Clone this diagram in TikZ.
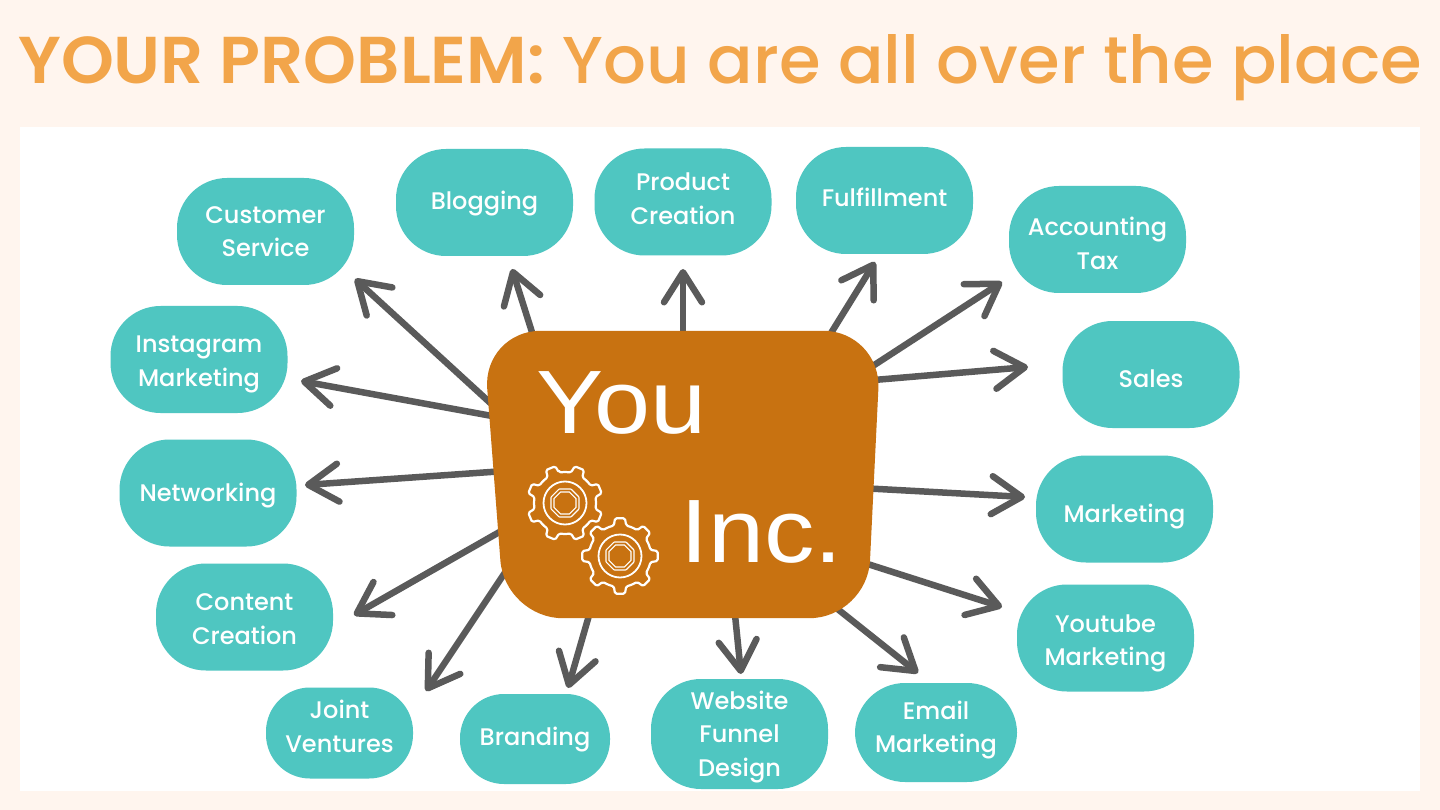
\documentclass[tikz,border=0pt]{standalone}
\usepackage{fontspec}
\usepackage{graphicx}
\setmainfont{Poppins}
\newfontfamily\popsb{Poppins SemiBold}
\newfontfamily\popmd{Poppins Medium}
\newfontfamily\arialf{Liberation Sans}
\usetikzlibrary{arrows.meta,calc}
\definecolor{bgpeach}{HTML}{FFF5EE}
\definecolor{titleor}{HTML}{F2A54A}
\definecolor{pillteal}{HTML}{4FC6C1}
\definecolor{boxorange}{HTML}{C87211}
\definecolor{arrgray}{HTML}{5A5A5A}
\newcommand{\pline}[1]{\smash{#1}}
\tikzset{
  pill/.style={fill=pillteal, rounded corners=50pt, inner sep=0pt,
    minimum width=177pt, minimum height=107pt},
  ptext/.style={text=white, font=\popmd\fontsize{24}{33.5}\selectfont,
    align=center, inner sep=0pt},
  arr/.style={draw=arrgray, line width=6.5pt, line cap=round, line join=round,
    -{Straight Barb[length=30pt,width=38pt,round]}},
  gearline/.style={draw=white, line width=2.2pt, line join=round, rounded corners=1.5pt},
  bigword/.style={anchor=base west, inner sep=0pt, text=white,
    font=\arialf\fontsize{90}{90}\selectfont},
}
\begin{document}
\begin{tikzpicture}[x=1pt,y=-1pt]
\useasboundingbox (0,0) rectangle (1440,810);
\fill[bgpeach] (0,0) rectangle (1440,810);
\fill[white] (20,127) rectangle (1420,791);

% title
\node[anchor=base west, inner sep=0pt, text=titleor] (title) at (18,84)
  {\resizebox{1404pt}{49pt}{\fontsize{60}{60}\selectfont{\popsb YOUR PROBLEM:} {\popmd You are all over the place}}};

% pills
\node[pill, label={[ptext,yshift=-8.5pt]center:\pline{Customer}\\\pline{Service}}] (cs) at (265.5,231.5) {};
\node[pill, label={[ptext,yshift=-7.5pt]center:\pline{Blogging}}] (blog) at (484.5,202.5) {};
\node[pill, label={[ptext,yshift=-5.5pt]center:\pline{Product}\\\pline{Creation}}] (prod) at (683,202) {};
\node[pill, label={[ptext,yshift=-6.5pt]center:\pline{Fulfillment}}] (ful) at (884.5,200.5) {};
\node[pill, label={[ptext,yshift=-13pt]center:\pline{Accounting}\\\pline{Tax}}] (acc) at (1097.5,239.5) {};
\node[pill, label={[ptext,yshift=-12.5pt]center:\pline{Sales}}] (sales) at (1151,374.5) {};
\node[pill, label={[ptext,yshift=-13.5pt]center:\pline{Marketing}}] (mkt) at (1124.5,509) {};
\node[pill, label={[ptext,yshift=-11pt]center:\pline{Youtube}\\\pline{Marketing}}] (yt) at (1105.5,638) {};
\node[pill, minimum width=162pt, minimum height=99pt,
  label={[ptext,yshift=-3.5pt]center:\pline{Email}\\\pline{Marketing}}] (email) at (936,732.5) {};
\node[pill, minimum height=110pt,
  label={[ptext,yshift=-8.5pt]center:\pline{Website}\\\pline{Funnel}\\\pline{Design}}] (web) at (739.5,734) {};
\node[pill, minimum width=150pt, minimum height=90pt, rounded corners=44pt,
  label={[ptext,yshift=-6.5pt]center:\pline{Branding}}] (brand) at (535,739) {};
\node[pill, minimum width=147pt, minimum height=91pt, rounded corners=44pt,
  label={[ptext,yshift=-2.5pt]center:\pline{Joint}\\\pline{Ventures}}] (jv) at (339.5,733) {};
\node[pill, label={[ptext,yshift=-10.5pt]center:\pline{Content}\\\pline{Creation}}] (cc) at (244.5,617) {};
\node[pill, label={[ptext,yshift=-8.5pt]center:\pline{Networking}}] (net) at (208,493) {};
\node[pill, label={[ptext,yshift=-10pt]center:\pline{Instagram}\\\pline{Marketing}}] (insta) at (199,359.5) {};

% central node
\node[minimum width=398pt, minimum height=287pt, inner sep=0pt] (you) at (682,474.5) {};

% arrow end points
\coordinate (s1) at (498,410);  \coordinate (t1) at (355,279);
\coordinate (s2) at (537,348);  \coordinate (t2) at (512,269);
\coordinate (s3) at (683,345);  \coordinate (t3) at (683,269);
\coordinate (s4) at (823,346);  \coordinate (t4) at (875,262);
\coordinate (s5) at (862,373);  \coordinate (t5) at (1002,282);
\coordinate (s6) at (862,381);  \coordinate (t6) at (1028,367);
\coordinate (s7) at (860,488);  \coordinate (t7) at (1025,497);
\coordinate (s8) at (852,559);  \coordinate (t8) at (1002,607);
\coordinate (s9) at (825,599);  \coordinate (t9) at (918,673);
\coordinate (s10) at (734,605); \coordinate (t10) at (741,674);
\coordinate (s11) at (592,605); \coordinate (t11) at (568,688);
\coordinate (s12) at (512,562); \coordinate (t12) at (426,691);
\coordinate (s13) at (510,526); \coordinate (t13) at (354,615);
\coordinate (s14) at (505,471); \coordinate (t14) at (305,485);
\coordinate (s15) at (503,418); \coordinate (t15) at (301,381);

\foreach \i in {1,...,15} { \draw[arr] (s\i) -- (t\i); }

% box
\fill[boxorange, rounded corners=58pt]
  (you.north west) -- (you.north east) -- ($(you.south east)+(-14,0)$) -- ($(you.south west)+(22,0)$) -- cycle;

\node[bigword] (youw) at (536,433) {\scalebox{1.12}[1]{You}};
\node[bigword] (incw) at (680,562) {\scalebox{1.12}[1]{Inc.}};

% gears
\foreach \cx/\cy/\off in {565/503/22.5, 620/556/0} {
  \begin{scope}[shift={(\cx,\cy)}]
    \draw[gearline] ({\off+90-11.5}:31pt)
      \foreach \k in {0,...,7} {
        -- ({\off+90+45*\k-7.5}:38pt) -- ({\off+90+45*\k+7.5}:38pt)
        -- ({\off+90+45*\k+11.5}:31pt) -- ({\off+90+45*\k+17}:31pt)
        -- ({\off+90+45*\k+22.5}:31pt) -- ({\off+90+45*\k+28}:31pt)
        -- ({\off+90+45*\k+33.5}:31pt)
      } -- cycle;
    \draw[white, line width=1.8pt] (0,0) circle[radius=21.5pt];
    \draw[white, line width=1.3pt, double=boxorange, double distance=1.8pt, line join=round]
      (22.5:13.5pt) \foreach \a in {67.5,112.5,...,337.5} { -- (\a:13.5pt) } -- cycle;
  \end{scope}
}
\end{tikzpicture}
\end{document}
